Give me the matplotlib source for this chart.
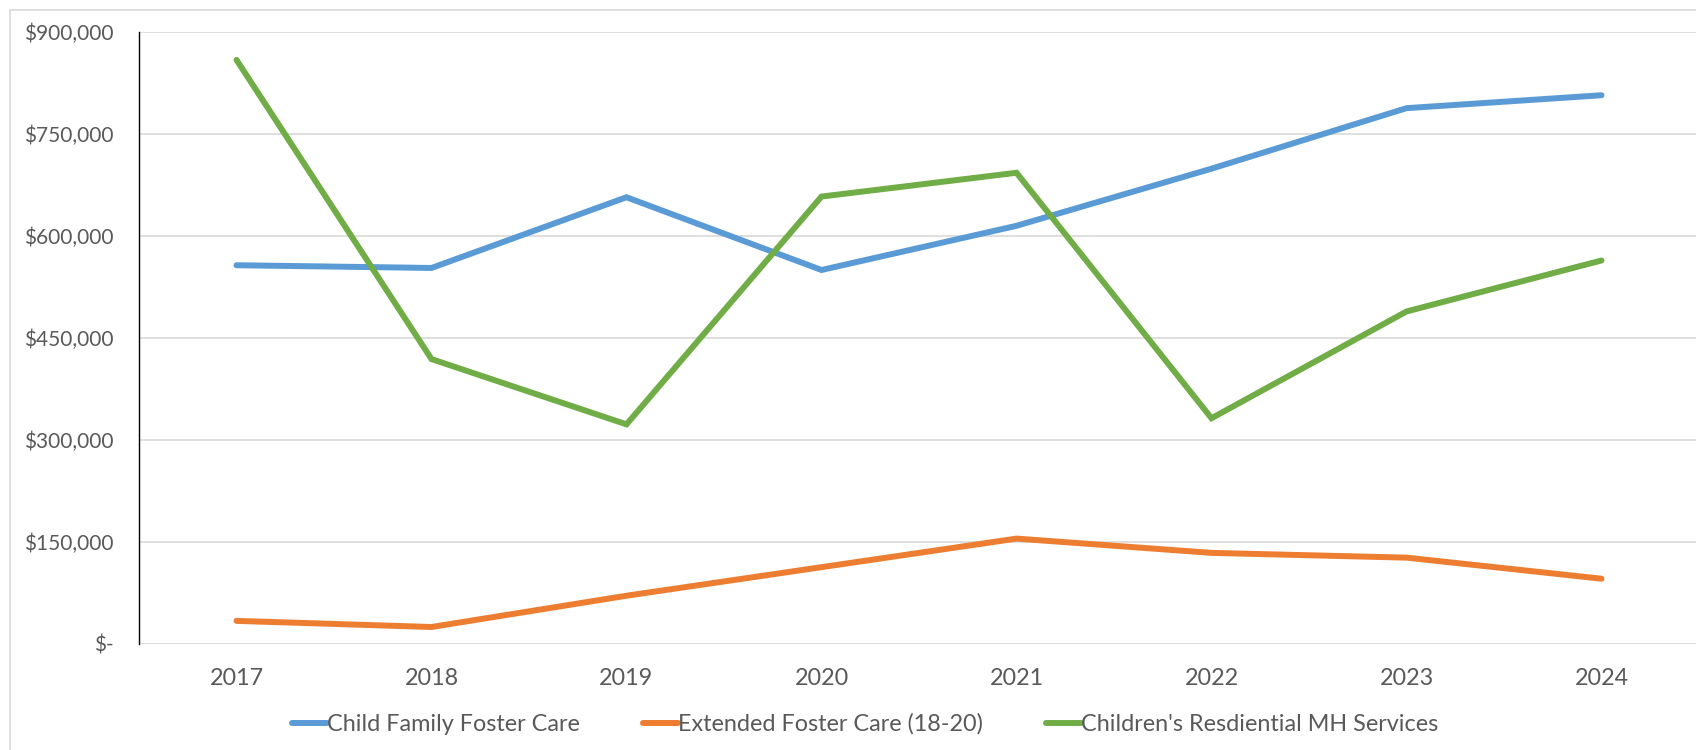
import matplotlib
matplotlib.use("Agg")
import matplotlib.pyplot as plt
from matplotlib.patches import Rectangle
from matplotlib.ticker import FuncFormatter

years = ["2017", "2018", "2019", "2020", "2021", "2022", "2023", "2024"]
child_family = [557000, 553000, 657000, 550000, 615000, 699000, 788000, 807000]
extended = [34000, 25000, 71000, 113000, 155000, 134000, 127000, 96000]
residential = [859000, 419000, 323000, 658000, 693000, 332000, 489000, 564000]
series_names = ["Child Family Foster Care", "Extended Foster Care (18-20)",
                "Children's Resdiential MH Services"]
yticks = [0, 150000, 300000, 450000, 600000, 750000, 900000]

colors = ["#5B9BD5", "#ED7D31", "#70AD47"]
txt = "#595959"
plt.rcParams['font.family'] = ['Lato', 'DejaVu Sans']

W, H = 1696, 750
fig = plt.figure(figsize=(W / 100, H / 100), dpi=100)

# outer chart border (cropped at right/bottom)
fig.patches.append(Rectangle((10 / W, -0.05), 1.2, (740 / H) + 0.05,
                             transform=fig.transFigure, fill=False,
                             edgecolor="#D9D9D9", linewidth=1.2))

left, right = 139 / W, 1699 / W
bottom, top = (H - 644) / H, (H - 32) / H
ax = fig.add_axes([left, bottom, right - left, top - bottom])

x = list(range(len(years)))
for vals, c, name in zip([child_family, extended, residential], colors, series_names):
    ax.plot(x, vals, color=c, linewidth=4.3, solid_capstyle='round',
            solid_joinstyle='miter', label=name, zorder=3)

ax.set_xlim(-0.5, len(years) - 0.5)
ax.set_ylim(0, 900000)
ax.set_yticks(yticks)
ax.yaxis.set_major_formatter(FuncFormatter(lambda v, p: "$-" if v == 0 else f"${v:,.0f}"))
ax.set_xticks(x)
ax.set_xticklabels(years)
ax.grid(axis='y', color="#D9D9D9", linewidth=1.2, zorder=0)
ax.set_axisbelow(True)
for s in ["top", "right", "bottom"]:
    ax.spines[s].set_visible(False)
ax.spines["left"].set_color("black")
ax.spines["left"].set_linewidth(1.0)
ax.tick_params(axis='both', length=0, colors=txt)
ax.tick_params(axis='y', pad=18.5, labelsize=15)
ax.tick_params(axis='x', pad=17, labelsize=16.8)

leg = fig.legend(loc='center', bbox_to_anchor=(865 / W, (H - 724) / H), ncol=3,
                 frameon=False, fontsize=16.8, handlelength=1.5, handletextpad=0.0,
                 columnspacing=2.7)
for t in leg.get_texts():
    t.set_color(txt)

fig.savefig("out.png", dpi=100, facecolor="white")
